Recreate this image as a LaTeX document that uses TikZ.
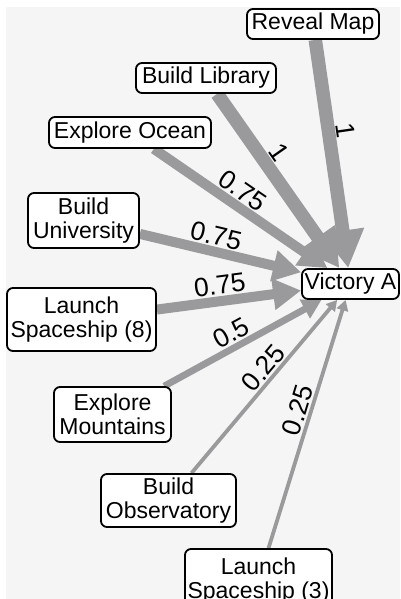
\documentclass[tikz,border=0pt]{standalone}
\usepackage{fontspec}
\setmainfont{Liberation Sans}
\usetikzlibrary{arrows.meta}
\definecolor{panel}{HTML}{F5F5F5}
\definecolor{edgegray}{HTML}{9A9A9C}
\pgfdeclarelayer{under}
\pgfsetlayers{under,main}
\begin{document}
\begin{tikzpicture}[x=1pt,y=-1pt,
  box/.style={draw=black, line width=1.8pt, rounded corners=6pt, fill=white,
    align=center, inner sep=0pt, font=\fontsize{23}{24.5}\selectfont},
  link/.style={draw=edgegray, line width=#1,
    -{Triangle[length=0pt 2.8, width=0pt 3.0]}},
  wt/.style={sloped, above=1.5pt, inner sep=0pt, text=black,
    font=\fontsize{26.5}{26.5}\selectfont}
]
\useasboundingbox (0,0) rectangle (400,599);

% goal node and its prerequisites
\node[box, minimum width=97pt,  minimum height=30pt] (va)  at (350.5,284)   {Victory A};
\node[box, minimum width=132pt, minimum height=30pt] (rm)  at (313,24)      {Reveal Map};
\node[box, minimum width=140pt, minimum height=30pt] (bl)  at (206,78)      {Build Library};
\node[box, minimum width=162pt, minimum height=31pt] (eo)  at (130,132.5)   {Explore Ocean};
\node[box, minimum width=111pt, minimum height=55pt] (bu)  at (83.5,220.5)  {Build\\University};
\node[box, minimum width=149pt, minimum height=63pt] (ls8) at (81.5,319.5)  {Launch\\Spaceship (8)};
\node[box, minimum width=117pt, minimum height=55pt] (em)  at (112.5,414.5) {Explore\\Mountains};
\node[box, minimum width=135pt, minimum height=53pt] (bo)  at (168.5,500.5) {Build\\Observatory};
\node[box, minimum width=147pt, minimum height=63pt] (ls3) at (258.5,580.5) {Launch\\Spaceship (3)};

\begin{pgfonlayer}{under}
  \fill[white] (0,0) rectangle (400,599);
  \fill[panel] (6,7) rectangle (400,599);
  % weighted links, width proportional to weight
  \draw[link=13.5pt] (rm)  -- node[wt, pos=0.41] {1}    (va);
  \draw[link=13.5pt] (bl)  -- node[wt, pos=0.39] {1}    (va);
  \draw[link=10pt]   (eo)  -- node[wt, pos=0.46] {0.75} (va);
  \draw[link=10pt]   (bu)  -- node[wt, pos=0.45] {0.75} (va);
  \draw[link=10pt]   (ls8) -- node[wt, pos=0.45] {0.75} (va);
  \draw[link=6.8pt]  (em)  -- node[wt, pos=0.47] {0.5}  (va);
  \draw[link=3.8pt]  (bo)  -- node[wt, pos=0.56] {0.25} (va);
  \draw[link=3.8pt]  (ls3) -- node[wt, pos=0.54] {0.25} (va);
\end{pgfonlayer}
\end{tikzpicture}
\end{document}
